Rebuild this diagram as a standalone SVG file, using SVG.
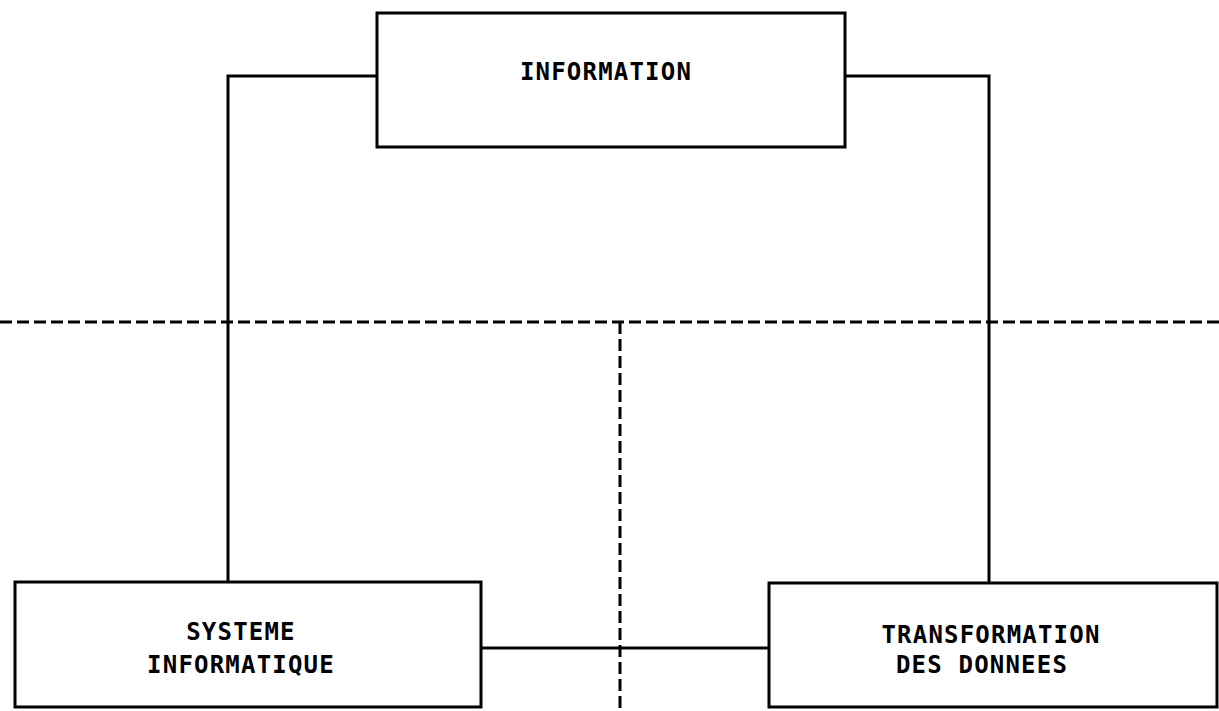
<svg xmlns="http://www.w3.org/2000/svg" width="1219" height="711" viewBox="0 0 1219 711">
  <style>
    .box { fill: #fff; stroke: #000; stroke-width: 3; }
    .link { fill: none; stroke: #000; stroke-width: 3; }
    .split { fill: none; stroke: #000; stroke-width: 3; stroke-dasharray: 12 5; }
    .label { font-family: "DejaVu Sans Mono", "Liberation Mono", monospace; font-size: 24px; font-weight: bold; letter-spacing: 1.2px; text-anchor: middle; fill: #000; }
  </style>
  <rect width="1219" height="711" fill="#fff"/>

  <!-- dashed partition lines -->
  <g id="partition">
    <line class="split" x1="0" y1="322" x2="1219" y2="322"/>
    <line class="split" x1="620" y1="322" x2="620" y2="711"/>
  </g>

  <!-- solid connectors between nodes -->
  <g id="connectors">
    <path class="link" d="M377 76 H228 V582"/>
    <path class="link" d="M845 76 H989 V583"/>
    <path class="link" d="M481 648 H769"/>
  </g>

  <g id="information">
    <rect class="box" x="377" y="13" width="468" height="134"/>
    <text class="label" x="606" y="80">INFORMATION</text>
  </g>

  <g id="systeme-informatique">
    <rect class="box" x="15" y="582" width="466" height="125"/>
    <text class="label" x="241" y="640">SYSTEME</text>
    <text class="label" x="241" y="673">INFORMATIQUE</text>
  </g>

  <g id="transformation-des-donnees">
    <rect class="box" x="769" y="583" width="448" height="124"/>
    <text class="label" x="991" y="643">TRANSFORMATION</text>
    <text class="label" x="982" y="673">DES DONNEES</text>
  </g>
</svg>
